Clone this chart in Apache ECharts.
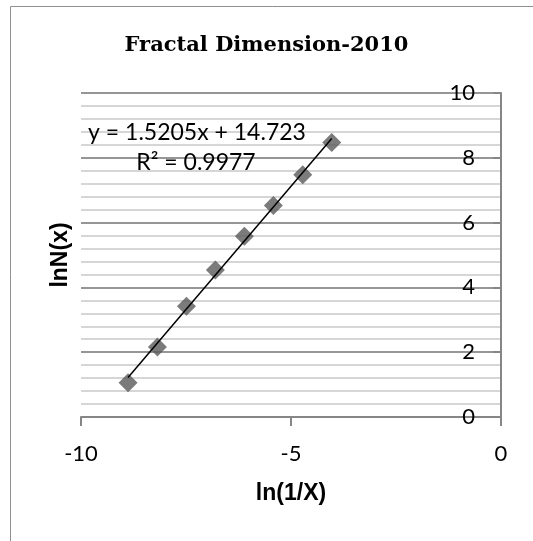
<!DOCTYPE html>
<html>
<head>
<meta charset="utf-8">
<script src="https://cdn.jsdelivr.net/npm/echarts@6/dist/echarts.min.js"></script>
<style>
  html, body { margin: 0; padding: 0; background: #fff; }
  #main { width: 533px; height: 541px; }
</style>
</head>
<body>
<div id="main"></div>
<script>
// ln(1/X) and lnN(x)
const xValues = [-8.88, -8.18, -7.49, -6.80, -6.11, -5.42, -4.72, -4.03]
const yValues = [1.06, 2.16, 3.42, 4.54, 5.58, 6.53, 7.48, 8.47]
// linear trendline shown in the chart
const slope = 1.5205
const intercept = 14.723
const rSquared = 0.9977

const labelFont = 'Lato, "Open Sans", sans-serif'
const boldFont = '"Liberation Sans", Arial, sans-serif'

onload = () => {
    let chart = echarts.init(document.getElementById('main'))

    let points = xValues.map((x, i) => [x, yValues[i]])
    let x0 = xValues[0]
    let x1 = xValues[xValues.length - 1]
    let trend = [[x0, slope * x0 + intercept], [x1, slope * x1 + intercept]]

    let option = {
        animation: false,
        title: {
            text: 'Fractal Dimension-2010',
            left: 'center',
            top: 30,
            textStyle: {
                fontFamily: '"DejaVu Serif", serif',
                fontWeight: 'bold',
                fontSize: 21,
                color: '#000'
            }
        },
        grid: { left: 81, right: 32, top: 93, bottom: 124 },
        xAxis: {
            type: 'value',
            min: -10,
            max: 0,
            interval: 5,
            name: 'ln(1/X)',
            nameLocation: 'middle',
            nameGap: 65,
            nameTextStyle: { fontFamily: boldFont, fontWeight: 'bold', fontSize: 23, color: '#000' },
            axisLine: { onZero: false, lineStyle: { color: '#868686', width: 2 } },
            axisTick: { show: true, length: 9, lineStyle: { color: '#868686', width: 2 } },
            axisLabel: { margin: 26, fontFamily: labelFont, fontSize: 22, color: '#000' },
            splitLine: { show: false }
        },
        yAxis: {
            type: 'value',
            position: 'right',
            min: 0,
            max: 10,
            interval: 2,
            axisLine: { show: true, onZero: false, lineStyle: { color: '#868686', width: 2 } },
            axisTick: { show: true, inside: true, length: 8, lineStyle: { color: '#868686', width: 2 } },
            axisLabel: { inside: true, margin: 26, fontFamily: labelFont, fontSize: 22, color: '#000' },
            splitLine: { show: true, lineStyle: { color: '#969696', width: 2 } },
            minorTick: { show: false, splitNumber: 5 },
            minorSplitLine: { show: true, lineStyle: { color: '#d6d6d6', width: 2 } }
        },
        graphic: [
            {
                type: 'rect',
                silent: true,
                shape: { x: 10.5, y: 6.5, width: 700, height: 700 },
                style: { fill: 'none', stroke: '#8f8f8f', lineWidth: 1 }
            },
            {
                type: 'text',
                x: 61,
                y: 255,
                rotation: Math.PI / 2,
                style: {
                    text: 'lnN(x)',
                    fontFamily: boldFont,
                    fontWeight: 'bold',
                    fontSize: 23,
                    fill: '#000',
                    textAlign: 'center',
                    textVerticalAlign: 'middle'
                }
            },
            {
                type: 'text',
                x: 197,
                y: 133,
                z: 10,
                style: {
                    text: 'y = ' + slope + 'x + ' + intercept,
                    fontFamily: labelFont,
                    fontSize: 23,
                    fill: '#000',
                    textAlign: 'center',
                    textVerticalAlign: 'middle'
                }
            },
            {
                type: 'text',
                x: 196,
                y: 163,
                z: 10,
                style: {
                    text: 'R² = ' + rSquared,
                    fontFamily: labelFont,
                    fontSize: 23,
                    fill: '#000',
                    textAlign: 'center',
                    textVerticalAlign: 'middle'
                }
            }
        ],
        series: [
            {
                type: 'scatter',
                data: points,
                symbol: 'diamond',
                symbolSize: 19,
                itemStyle: { color: '#5a5a5a' },
                z: 2
            },
            {
                type: 'line',
                data: trend,
                showSymbol: false,
                symbol: 'none',
                lineStyle: { color: '#000', width: 1.5 },
                z: 3
            }
        ]
    }
    chart.setOption(option)
}
</script>
</body>
</html>
